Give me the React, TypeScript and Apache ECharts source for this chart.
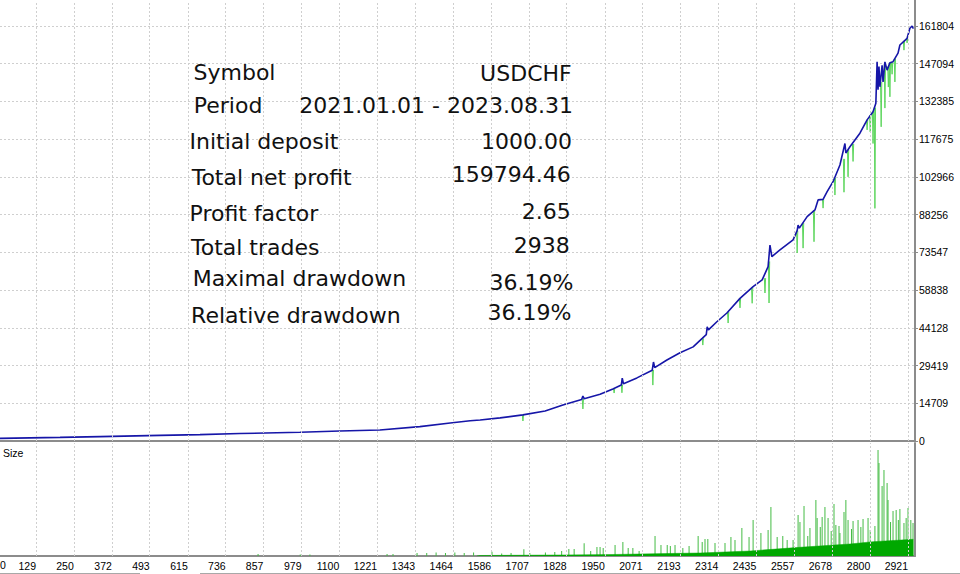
import React, { useEffect, useRef } from 'react';
import * as echarts from 'echarts';

// ---- data ----
const xTickLabels = ['0', '129', '250', '372', '493', '615', '736', '857', '979', '1100', '1221', '1343', '1464', '1586', '1707', '1828', '1950', '2071', '2193', '2314', '2435', '2557', '2678', '2800', '2921'];
const yTickStep = 14709.413;
const yTickCount = 11;

// balance: [trade #, balance]
const balance: [number, number][] = [
  [0, 1000], [206, 1400], [334, 1700], [526, 2200], [654, 2500], [782, 2900], [974, 3400], [1102, 3900],
  [1230, 4300], [1358, 5600], [1455, 7000], [1519, 7900], [1551, 8200], [1615, 9000], [1688, 10200],
  [1759, 11700], [1816, 14000], [1876, 16200], [1880, 17500], [1884, 16500], [1935, 18200], [1976, 20300],
  [2003, 21800], [2006, 24500], [2010, 22300], [2053, 24600], [2102, 27600], [2106, 30800], [2110, 28600],
  [2149, 31600], [2191, 34400], [2233, 36700], [2262, 40000], [2275, 41500], [2278, 44500], [2282, 43300],
  [2309, 46500], [2341, 49900], [2383, 55600], [2425, 60200], [2454, 62800], [2473, 68000], [2479, 76400],
  [2485, 71900], [2511, 74500], [2553, 78400], [2566, 82000], [2569, 84200], [2573, 83000], [2598, 87500],
  [2623, 90100], [2633, 94000], [2649, 94200], [2662, 97200], [2681, 101100], [2703, 107600], [2719, 116000],
  [2722, 112300], [2735, 114700], [2767, 120000], [2790, 125200], [2809, 128400], [2818, 131700],
  [2822, 147900], [2825, 137000], [2828, 146000], [2831, 138100], [2838, 146500], [2841, 140000],
  [2847, 147800], [2854, 144600], [2863, 147500], [2873, 147900], [2889, 151200], [2895, 154400],
  [2918, 157000], [2927, 160900], [2934, 161800], [2938, 160794]
];

// equity drawdown dips below the balance: [trade #, equity at start, equity low]
const equityDips: [number, number, number][] = [
  [1688, 10200, 7800], [1880, 16400, 12500], [1980, 20400, 18700], [2005, 22000, 18800],
  [2104, 27700, 21800], [2264, 40000, 37400], [2345, 50300, 46000], [2383, 55600, 51900],
  [2422, 59800, 53700], [2463, 63500, 57700], [2476, 70000, 53800], [2566, 82000, 73300],
  [2585, 85000, 75200], [2620, 89900, 77700], [2649, 94200, 90800], [2687, 102500, 95900],
  [2716, 110000, 97000], [2729, 113500, 103000], [2745, 115800, 109000], [2790, 125200, 121300],
  [2800, 127000, 120500], [2809, 128400, 116000], [2815, 130000, 90700], [2835, 140000, 122500],
  [2847, 147000, 129800], [2858, 146000, 138000], [2863, 147500, 134200], [2870, 147700, 143000],
  [2879, 149000, 140000], [2908, 156000, 152400], [2918, 157000, 155200]
];

// lot size panel: the dense base of bars and the taller individual bars
const sizeBase: [number, number][] = [
  [1540, 0], [1551, 0.05], [1816, 0.1], [1976, 0.15], [2191, 0.27], [2255, 0.3], [2415, 0.5],
  [2575, 0.87], [2735, 1.2], [2809, 1.43], [2938, 1.67]
];
const sizeSpikes: [number, number][] = [
  [840, 0.2], [975, 0.15], [1006, 0.15], [1253, 0.2], [1272, 0.2], [1349, 0.3], [1380, 0.3], [1410, 0.35],
  [1440, 0.3], [1470, 0.35], [1500, 0.3], [1530, 0.35], [1589, 0.43], [1620, 0.25], [1650, 0.3],
  [1691, 0.67], [1710, 0.3], [1760, 0.35], [1790, 0.4], [1812, 0.5], [1835, 0.7], [1852, 0.7],
  [1884, 1.27], [1905, 0.5], [1925, 0.9], [1935, 0.9], [1945, 0.8], [1983, 1.1], [2008, 1.4],
  [2025, 0.8], [2040, 0.8], [2060, 0.5], [2111, 2.0], [2130, 1.1], [2150, 1.1], [2160, 1.0],
  [2175, 1.1], [2200, 0.8], [2220, 1.0], [2249, 2.0], [2262, 1.4], [2271, 1.7], [2280, 1.7],
  [2303, 1.3], [2335, 1.3], [2354, 1.9], [2367, 1.6], [2389, 2.8], [2412, 1.9], [2425, 3.6],
  [2450, 2.3], [2473, 2.6], [2482, 4.9], [2502, 1.9], [2520, 2.0], [2534, 1.6], [2553, 1.6],
  [2569, 4.1], [2575, 3.4], [2588, 5.0], [2600, 2.0], [2607, 2.8], [2626, 5.6], [2630, 3.8],
  [2640, 2.9], [2646, 3.9], [2655, 4.9], [2665, 3.8], [2675, 2.5], [2684, 5.2], [2690, 3.1],
  [2700, 3.0], [2703, 2.3], [2716, 4.4], [2722, 5.6], [2729, 3.6], [2740, 2.7], [2745, 3.5],
  [2761, 3.6], [2770, 2.9], [2777, 3.7], [2793, 3.8], [2800, 2.6], [2815, 3.0], [2825, 10.6],
  [2828, 9.3], [2838, 7.0], [2844, 8.6], [2854, 7.3], [2857, 5.6], [2865, 3.4], [2873, 4.5],
  [2883, 4.6], [2890, 3.6], [2895, 4.7], [2908, 3.3], [2915, 3.8], [2921, 4.8], [2930, 3.6], [2937, 3.3]
];

const statLabels = ['Symbol', 'Period', 'Initial deposit', 'Total net profit', 'Profit factor', 'Total trades', 'Maximal drawdown', 'Relative drawdown'];
const statValues = ['USDCHF', '2021.01.01 - 2023.08.31', '1000.00', '159794.46', '2.65', '2938', '36.19%', '36.19%'];

// layout of the stats block (label x, label y, value right x, value y)
const statLayout: [number, number, number, number][] = [
  [193.5, 72, 571.7, 73.3], [193.8, 105, 573, 105.3], [189.5, 141.3, 572, 141], [191.7, 177.5, 570.8, 174.2],
  [189.5, 213.8, 570.8, 211.3], [191, 247.5, 569.8, 245.3], [192.8, 278.7, 573.5, 282.5], [191.1, 315.3, 571.5, 312.5]
];

const W = 960;
const H = 574;
const PLOT_RIGHT = 915;
const MAIN_BOTTOM = 441;
const SIZE_TOP = 443;
const SIZE_BOTTOM = 556;
const TRADES_PER_PX = 3.2018;
const TRADE_AT_PX0 = 13.7;

export default function App() {
  const ref = useRef<HTMLDivElement>(null);

  useEffect(() => {
    document.body.style.margin = '0';
    if (!ref.current) return;
    const chart = echarts.init(ref.current, undefined, { renderer: 'svg' });

    const yMaxVal = (yTickStep * yTickCount) * MAIN_BOTTOM / 415;
    const tradeMin = TRADE_AT_PX0;
    const tradeMax = TRADE_AT_PX0 + TRADES_PER_PX * PLOT_RIGHT;
    const tickValues = xTickLabels.map(Number);
    const visibleTicks = tickValues.filter((v) => v >= tradeMin && v <= tradeMax);

    const dotted = { color: '#cfcfcf', type: [2, 2] as any, width: 1 };
    const axisGray = '#8c8c8c';
    const labelFont = { fontFamily: 'Liberation Sans', fontSize: 10.5, color: '#000' };

    const graphic: any[] = [];
    // hides the split line ECharts draws at the axis extent (top edge)
    graphic.push({ type: 'rect', silent: true, z: 50, shape: { x: 0, y: 0, width: PLOT_RIGHT - 1, height: 1.5 }, style: { fill: '#ffffff' } });
    statLabels.forEach((t, i) => {
      const [lx, ly, vx, vy] = statLayout[i];
      graphic.push({ type: 'text', x: lx, y: ly, silent: true, z: 100,
        style: { text: t, fontFamily: 'DejaVu Sans', fontSize: 22, fill: '#111', align: 'left', verticalAlign: 'middle' } });
      graphic.push({ type: 'text', x: vx, y: vy, silent: true, z: 100,
        style: { text: statValues[i], fontFamily: 'DejaVu Sans', fontSize: 22, fill: '#111', align: 'right', verticalAlign: 'middle' } });
    });
    graphic.push({ type: 'text', x: 3, y: 453, silent: true,
      style: { text: 'Size', fontFamily: 'Liberation Sans', fontSize: 10.5, fill: '#000', align: 'left', verticalAlign: 'middle' } });
    graphic.push({ type: 'text', x: 0, y: 565, silent: true,
      style: { text: xTickLabels[0], fontFamily: 'Liberation Sans', fontSize: 10.5, fill: '#000', align: 'left', verticalAlign: 'middle' } });
    graphic.push({ type: 'line', silent: true, shape: { x1: 0, y1: 573.5, x2: 140, y2: 573.5 }, style: { stroke: '#a8a8a8', lineWidth: 1 } });
    graphic.push({ type: 'line', silent: true, shape: { x1: 200, y1: 573.5, x2: 960, y2: 573.5 }, style: { stroke: '#a8a8a8', lineWidth: 1 } });

    const tradeAxis = (gridIndex: number, showLabels: boolean) => ({
      type: 'value', gridIndex, position: 'bottom', min: tradeMin, max: tradeMax,
      axisLine: { show: true, onZero: false, lineStyle: { color: axisGray, width: 2 } },
      axisTick: { show: false, customValues: tickValues },
      axisLabel: { show: showLabels, ...labelFont, align: 'right', margin: 4, customValues: tickValues,
        formatter: (v: number) => String(Math.round(v)) },
      splitLine: { show: false }
    });

    const gridMarks = (xAxisIndex: number, yAxisIndex: number) => ({
      type: 'line', xAxisIndex, yAxisIndex, data: [], silent: true, z: 1, symbol: 'none',
      markLine: {
        silent: true, symbol: ['none', 'none'], animation: false, label: { show: false },
        lineStyle: dotted, emphasis: { disabled: true },
        data: visibleTicks.map((v) => ({ xAxis: v }))
      }
    });

    chart.setOption({
      animation: false,
      backgroundColor: '#ffffff',
      grid: [
        { left: 0, right: W - PLOT_RIGHT, top: 0, bottom: H - MAIN_BOTTOM },
        { left: 0, right: W - PLOT_RIGHT, top: SIZE_TOP, bottom: H - SIZE_BOTTOM }
      ],
      xAxis: [tradeAxis(0, false), tradeAxis(1, true)],
      yAxis: [
        { type: 'value', gridIndex: 0, position: 'right', min: 0, max: yMaxVal, interval: yTickStep,
          axisLine: { show: true, lineStyle: { color: axisGray, width: 2 } },
          axisTick: { show: true, length: 3, lineStyle: { color: axisGray } },
          axisLabel: { show: true, ...labelFont, margin: 4, showMaxLabel: false, formatter: (v: number) => String(Math.round(v)) },
          splitLine: { show: true, lineStyle: dotted } },
        { type: 'value', gridIndex: 1, position: 'right', min: 0, max: 11.3,
          axisLine: { show: true, lineStyle: { color: axisGray, width: 2 } },
          axisTick: { show: false }, axisLabel: { show: false }, splitLine: { show: false } }
      ],
      series: [
        gridMarks(0, 0),
        gridMarks(1, 1),
        { type: 'lines', coordinateSystem: 'cartesian2d', xAxisIndex: 0, yAxisIndex: 0, polyline: true, silent: true, z: 2,
          lineStyle: { color: '#5cd65c', width: 1, opacity: 1 },
          data: equityDips.map(([i, top, low]) => ({ coords: [[i - 2, top], [i, low], [i + 2, top]] })) },
        { type: 'line', xAxisIndex: 0, yAxisIndex: 0, data: balance, showSymbol: false, symbol: 'none', silent: true, z: 3,
          clip: true, lineStyle: { color: '#1616a8', width: 1.6 } },
        { type: 'bar', xAxisIndex: 1, yAxisIndex: 1, data: sizeSpikes, barWidth: 1, silent: true, z: 2,
          itemStyle: { color: '#44bb44' } },
        { type: 'line', xAxisIndex: 1, yAxisIndex: 1, data: sizeBase, showSymbol: false, symbol: 'none', silent: true, z: 3,
          lineStyle: { color: '#00a800', width: 0.5 }, areaStyle: { color: '#00a800', opacity: 1 } }
      ],
      graphic
    });

    return () => chart.dispose();
  }, []);

  return <div ref={ref} style={{ width: W, height: H }} />;
}
